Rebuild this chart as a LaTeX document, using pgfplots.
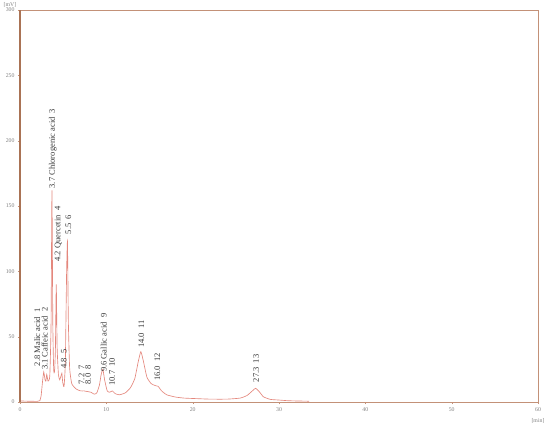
\documentclass[border=0pt]{standalone}
\usepackage{pgfplots}
\pgfplotsset{compat=1.18}
\usetikzlibrary{calc}
\usepackage{fontspec}
\setmainfont{Liberation Serif}
\definecolor{axisc}{RGB}{195,145,120}
\definecolor{axisdark}{RGB}{170,115,85}
\definecolor{curvec}{RGB}{228,135,125}
\definecolor{labc}{RGB}{55,55,55}

\begin{document}
\begin{tikzpicture}
\begin{axis}[
    scale only axis,
    width=518pt, height=392pt,
    xmin=0, xmax=60, ymin=0, ymax=300,
    xtick={0,10,...,60},
    ytick={0,50,...,300},
    axis line style={draw=axisc, line width=0.9pt},
    major tick length=2pt,
    tick style={draw=axisc},
    tick align=outside,
    xtick pos=bottom, ytick pos=left,
    ticklabel style={font=\fontsize{5.8}{6}\selectfont, text=gray},
    /pgf/number format/assume math mode=true,
    clip=false,
]
\addplot[curvec, line width=0.65pt, smooth, tension=0.3] coordinates {
(0,0.8) (1,0.6) (2,0.5) (2.3,1) (2.45,5) (2.6,15) (2.75,23) (2.9,17) (3.0,16)
(3.1,21) (3.25,16) (3.45,20) (3.6,60) (3.7,162) (3.8,60) (3.9,25) (4.0,23)
(4.1,40) (4.2,90) (4.3,42) (4.45,21) (4.6,17) (4.75,20) (4.85,22) (4.95,15)
(5.1,12) (5.25,30) (5.4,100) (5.5,123) (5.6,62) (5.75,26) (6.0,14) (6.5,10)
(7.0,8.5) (7.4,8.5) (7.8,8) (8.2,7.5) (8.6,6) (8.9,7) (9.2,13) (9.4,21)
(9.6,25) (9.8,17) (10.1,8.5) (10.4,7.5) (10.7,8.5) (11.0,6.5) (11.5,5.5)
(12.2,7) (12.8,11) (13.3,18) (13.7,31) (14.0,38.5) (14.3,31) (14.7,19)
(15.2,14) (15.7,12.5) (16.0,12) (16.4,8.5) (17.0,5.5) (18,3.8) (19,3)
(20,2.7) (22,2.2) (24,2.2) (25.5,3) (26.3,5) (27.0,9) (27.3,10.5) (27.7,8)
(28.2,4) (29,2) (30,1.5) (31,1) (32,0.8) (33.5,0.6)
};
\draw[axisdark, line width=1.6pt] (rel axis cs:0,0) -- (rel axis cs:0,1);
\begin{scope}[every node/.style={rotate=90, anchor=west, inner sep=0.5pt,
    font=\fontsize{8.5}{9}\selectfont, text=labc}]
\node at (axis cs:2.0,27) {2.8 Malic acid\enspace 1};
\node at (axis cs:2.85,24) {3.1 Caffeic acid\enspace 2};
\node at (axis cs:3.8,163) {3.7 Chlorogenic acid\enspace 3};
\node at (axis cs:4.43,107) {4.2 Quercetin\enspace 4};
\node at (axis cs:5.09,25) {4.8\enspace 5};
\node at (axis cs:5.6,128) {5.5\enspace 6};
\node at (axis cs:7.13,13) {7.2\enspace 7};
\node at (axis cs:7.9,13) {8.0\enspace 8};
\node at (axis cs:9.7,22.5) {9.6 Gallic acid\enspace 9};
\node at (axis cs:10.67,12) {10.7\enspace 10};
\node at (axis cs:14.07,41) {14.0\enspace 11};
\node at (axis cs:15.9,15.6) {16.0\enspace 12};
\node at (axis cs:27.36,14.6) {27.3\enspace 13};
\end{scope}
\node[font=\fontsize{5.8}{6}\selectfont, text=gray, anchor=south] at ([xshift=-10pt,yshift=-1pt]rel axis cs:0,1) {[mV]};
\node[font=\fontsize{5.8}{6}\selectfont, text=gray] at ([yshift=-19pt]rel axis cs:1,0) {[min]};
\end{axis}
\pgfresetboundingbox
\path[use as bounding box] ($(current axis.south west)+(-20pt,-28pt)$) rectangle ($(current axis.north east)+(12pt,10pt)$);
\end{tikzpicture}
\end{document}
